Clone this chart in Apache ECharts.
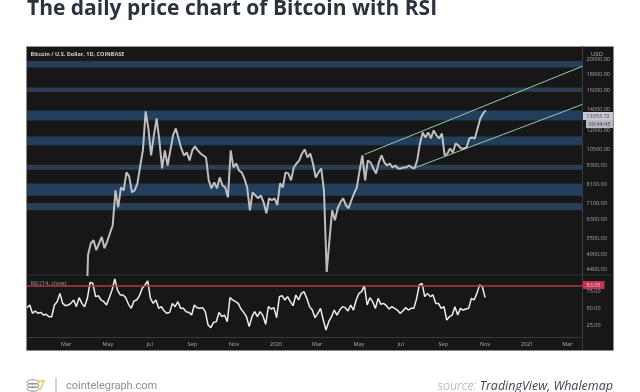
<!DOCTYPE html>
<html>
<head>
<meta charset="utf-8">
<style>html,body{margin:0;padding:0;background:#fff}#c{width:640px;height:392px}</style>
<script src="https://cdn.jsdelivr.net/npm/echarts@6/dist/echarts.min.js"></script>
</head>
<body>
<div id="c"></div>
<script>
const priceFirstDate = '2019-04-01';
const priceFirstValue = 4100;
const priceStartDate = '2019-04-02';
const rsiStartDate = '2019-01-03';
const sampleStepDays = 4;
const priceValues = [
4875,5300,5430,5055,5300,5555,5125,5385,5710,6050,7785,6890,7955,7785,8865,8610,7675,7785,8187,9255,
10390,13778,12186,10020,11581,13100,11170,9120,10390,9320,10390,11581,12186,11332,10540,10020,10240,9665,10390,10695,
10390,10165,10020,9875,8365,7900,8245,7900,8547,8070,7955,7400,10390,9187,9456,8990,8865,8485,7955,6740,
7675,7510,7350,7510,7140,6595,7350,7245,7350,6990,8187,7955,8865,8800,8365,9187,9456,9665,10165,10465,
9875,10165,9456,8547,8865,9120,7785,4312,5430,6740,6270,6840,7140,7350,6990,6840,7245,7620,7955,8990,
10020,8365,9665,9525,9120,8800,9525,10020,9525,9320,9456,9187,9320,9120,9120,9187,9187,9320,9187,9120,
9665,10930,11836,11414,11836,11332,12010,11581,11332,11750,10020,10165,10540,10240,10930,10775,10540,10540,10620,11332,
11414,11332,12186,13100,13582,13878];
const rsiValues = [
50.5,54.4,42.2,45.6,42.2,43.6,39.7,40.7,37.2,37.2,54.4,59.3,71.5,56.8,53.4,54.4,56.8,61.8,52,65.2,
56.8,52,64.2,87.7,86.3,66.7,68.1,61.8,59.3,54.4,65.2,76.4,92.6,76.4,69.1,69.1,65.2,55.4,49.5,60.3,
61.8,68.1,78.9,83.8,89.7,64.2,56.8,61.8,49.5,52,45.6,42.2,43.6,56.8,52,59.3,49.5,
49.5,44.6,43.6,39.7,54.4,50.5,49.5,50.5,44.6,25,21.1,28.9,29.9,43.6,37.2,39.7,29.9,65.2,61.8,59.3,
56.8,48.5,43.6,37.2,22.6,37.2,44.6,37.2,44.6,38.7,26,52,48.5,50.5,35.8,66.7,68.1,61.8,66.7,59.3,
53.4,69.1,61.8,71.5,74,64.2,52,47,35.8,42.2,49.5,32.4,17.7,
29.9,37.2,47,39.7,47,52,50.5,45.6,54.4,47,61.8,71.5,74,82.8,54.4,65.2,59.3,49.5,64.2,55.4,
56.8,53.4,48.5,52,49.5,47,42.2,45.6,50.5,47,49.5,49.5,63.2,83.8,86.3,66.7,71.5,66.7,69.1,56.8,
56.8,49.5,52,32.4,37.2,39.7,52,39.7,49.5,47,48.5,49.5,64.2,61.8,71.5,83.8,81.3,65.2];
const bandLows  = [18920,15850,12907,10790,9040,7480,6740];
const bandHighs = [19845,16386,13880,11500,9370,8180,7100];
const bandColors = ['#253d57','#2c3c4e','#223f5c','#223e5a','#2b3e52','#223f5c','#2a3f55'];
const channelUpperDates = ['2020-05-09','2021-03-23'];
const channelUpperPrices = [10090,19112];
const channelLowerDates = ['2020-07-23','2021-03-23'];
const channelLowerPrices = [9187,14497];
const priceTicks = [20000,18000,16000,14000,12000,10500,9300,8100,7100,6300,5500,4900,4400];
const rsiTicks = [25,50,75];
const rsiLevel = 83.05;
const xTickDates = ['2019-03-01','2019-05-01','2019-07-01','2019-09-01','2019-11-01','2020-01-01','2020-03-01','2020-05-01','2020-07-01','2020-09-01','2020-11-01','2021-01-01','2021-03-01'];
const xTickLabels = ['Mar','May','Jul','Sep','Nov','2020','Mar','May','Jul','Sep','Nov','2021','Mar'];
const xMin = '2019-01-03', xMax = '2021-03-23';
const priceMin = 4220, priceMax = 22036, rsiMin = 7.4, rsiMax = 98.5;

const DAY = 86400000;
const ts = s => Date.parse(s + 'T00:00:00Z');
const xTickTs = xTickDates.map(ts);
const priceData = [[ts(priceFirstDate), priceFirstValue]].concat(
  priceValues.map((v, i) => [ts(priceStartDate) + i * sampleStepDays * DAY, v]));
const rsiData = rsiValues.map((v, i) => [ts(rsiStartDate) + i * sampleStepDays * DAY, v]);
const FONT = '"Open Sans", sans-serif';
const axisText = '#a9a9a9';
const axisFontSize = 5.5;

const chart = echarts.init(document.getElementById('c'), null, {renderer: 'canvas', width: 640, height: 392});
chart.setOption({
  animation: false,
  backgroundColor: '#ffffff',
  grid: [
    {left: 27, width: 555.5, top: 46.5, height: 228.5, show: false, containLabel: false},
    {left: 27, width: 555.5, top: 275, height: 62, show: false, containLabel: false}
  ],
  xAxis: [
    {type: 'value', gridIndex: 0, min: ts(xMin), max: ts(xMax), show: false},
    {type: 'value', gridIndex: 1, min: ts(xMin), max: ts(xMax),
      axisLine: {show: true, lineStyle: {color: '#3a3a3a', width: 1}},
      axisTick: {show: false}, splitLine: {show: false},
      axisLabel: {customValues: xTickTs, color: axisText, fontSize: axisFontSize, fontFamily: FONT, margin: 4,
        hideOverlap: false, showMinLabel: true, showMaxLabel: true,
        formatter: v => { const i = xTickTs.indexOf(+v); return i >= 0 ? xTickLabels[i] : ''; }}}
  ],
  yAxis: [
    {type: 'log', gridIndex: 0, position: 'right', min: priceMin, max: priceMax,
      axisLine: {show: true, lineStyle: {color: '#3c3c3c', width: 1}},
      axisTick: {show: false}, splitLine: {show: false},
      axisLabel: {customValues: priceTicks, color: axisText, fontSize: axisFontSize, fontFamily: FONT, margin: 4,
        hideOverlap: false, showMinLabel: true, showMaxLabel: true,
        formatter: v => Number(v).toFixed(2)}},
    {type: 'value', gridIndex: 1, position: 'right', min: rsiMin, max: rsiMax,
      axisLine: {show: true, lineStyle: {color: '#3c3c3c', width: 1}},
      axisTick: {show: false}, splitLine: {show: false},
      axisLabel: {customValues: rsiTicks, color: axisText, fontSize: axisFontSize, fontFamily: FONT, margin: 4,
        formatter: v => Number(v).toFixed(2)}}
  ],
  series: [
    {type: 'line', xAxisIndex: 0, yAxisIndex: 0, data: [], z: 2, silent: true,
      markArea: {silent: true,
        data: bandLows.map((lo, i) => [
          {xAxis: ts(xMin), yAxis: lo, itemStyle: {color: bandColors[i]}},
          {xAxis: ts(xMax), yAxis: bandHighs[i]}])}},
    {type: 'line', xAxisIndex: 0, yAxisIndex: 0, data: priceData, showSymbol: false, z: 4, clip: true,
      lineStyle: {color: '#d0d0d0', width: 2, opacity: 0.9, join: 'bevel'}},
    {type: 'line', xAxisIndex: 0, yAxisIndex: 0, z: 3, showSymbol: false,
      data: channelUpperDates.map((d, i) => [ts(d), channelUpperPrices[i]]),
      lineStyle: {color: '#8fcbb0', width: 1}},
    {type: 'line', xAxisIndex: 0, yAxisIndex: 0, z: 3, showSymbol: false,
      data: channelLowerDates.map((d, i) => [ts(d), channelLowerPrices[i]]),
      lineStyle: {color: '#8fcbb0', width: 1}},
    {type: 'line', xAxisIndex: 1, yAxisIndex: 1, data: rsiData, showSymbol: false, z: 4,
      lineStyle: {color: '#eeeeee', width: 1.5},
      markLine: {silent: true, symbol: 'none', label: {show: false},
        lineStyle: {color: '#ad3c4c', width: 1.5, type: 'solid'}, data: [{yAxis: rsiLevel}]}}
  ],
  graphic: [
    {type: 'rect', z: -10, silent: true, shape: {x: 26.5, y: 46, width: 587, height: 304.5}, style: {fill: '#171717'}},
    {type: 'line', z: -9, silent: true, shape: {x1: 26.5, y1: 46.5, x2: 613.5, y2: 46.5}, style: {stroke: '#9a9a9a', lineWidth: 1}},
    {type: 'line', z: -9, silent: true, shape: {x1: 26.5, y1: 46, x2: 26.5, y2: 350.5}, style: {stroke: '#8a8a8a', lineWidth: 1}},
    {type: 'line', z: -9, silent: true, shape: {x1: 27, y1: 275, x2: 613, y2: 275}, style: {stroke: '#3a3030', lineWidth: 1}},
    {type: 'line', z: -9, silent: true, shape: {x1: 582.5, y1: 337, x2: 582.5, y2: 350}, style: {stroke: '#3c3c3c', lineWidth: 1}},
    {type: 'text', z: 10, style: {x: 27, y: 20, text: 'The daily price chart of Bitcoin with RSI', fill: '#2a333d',
      font: 'bold 21px "Open Sans", sans-serif', textVerticalAlign: 'bottom'}},
    {type: 'text', z: 10, style: {x: 30.5, y: 54.5, text: 'Bitcoin / U.S. Dollar, 1D, COINBASE', fill: '#d0d0d0',
      font: '700 5.5px "Open Sans", sans-serif', textVerticalAlign: 'middle'}},
    {type: 'text', z: 10, style: {x: 30.5, y: 283, text: 'RSI (14, close)', fill: '#9c9c9c',
      font: '5.7px "Open Sans", sans-serif', textVerticalAlign: 'middle'}},
    {type: 'text', z: 10, style: {x: 597, y: 54, text: 'USD', fill: '#b5b5b5',
      font: '6px "Open Sans", sans-serif', textAlign: 'center', textVerticalAlign: 'middle'}},
    {type: 'rect', z: 10, shape: {x: 583, y: 112, width: 30, height: 8}, style: {fill: '#c9c9d1'}},
    {type: 'rect', z: 10, shape: {x: 586, y: 120, width: 27, height: 8}, style: {fill: '#b9b9c0'}},
    {type: 'text', z: 11, style: {x: 598, y: 116, text: '13353.72', fill: '#3c4048',
      font: '5.5px "Open Sans", sans-serif', textAlign: 'center', textVerticalAlign: 'middle'}},
    {type: 'text', z: 11, style: {x: 599.5, y: 124, text: '09:44:45', fill: '#3c4048',
      font: '5.5px "Open Sans", sans-serif', textAlign: 'center', textVerticalAlign: 'middle'}},
    {type: 'rect', z: 10, shape: {x: 583, y: 281, width: 21.5, height: 8}, style: {fill: '#c2354f'}},
    {type: 'text', z: 11, style: {x: 593.5, y: 285, text: '83.05', fill: '#eccdd2',
      font: '5.5px "Open Sans", sans-serif', textAlign: 'center', textVerticalAlign: 'middle'}},
    {type: 'ellipse', z: 10, shape: {cx: 33, cy: 382, rx: 6, ry: 2.2}, style: {fill: 'none', stroke: '#8d8d8d', lineWidth: 1}},
    {type: 'ellipse', z: 10, shape: {cx: 33, cy: 385.5, rx: 6, ry: 2.2}, style: {fill: 'none', stroke: '#8d8d8d', lineWidth: 1}},
    {type: 'ellipse', z: 10, shape: {cx: 33, cy: 389, rx: 6, ry: 2.2}, style: {fill: 'none', stroke: '#8d8d8d', lineWidth: 1}},
    {type: 'polyline', z: 10, shape: {points: [[37, 381], [44, 381], [40, 390]]}, style: {fill: 'none', stroke: '#f2c75c', lineWidth: 1.6}},
    {type: 'line', z: 10, shape: {x1: 56, y1: 378, x2: 56, y2: 392}, style: {stroke: '#a8a8a8', lineWidth: 1}},
    {type: 'text', z: 10, style: {x: 66, y: 386, text: 'cointelegraph.com', fill: '#8a8f94',
      font: '11px Roboto, sans-serif', textVerticalAlign: 'middle'}},
    {type: 'text', z: 10, style: {x: 613, y: 386, textAlign: 'right', textVerticalAlign: 'middle',
      text: '{a|source: }{b|TradingView, Whalemap}',
      rich: {a: {fill: '#9aa0a6', font: 'italic 300 12.5px "Open Sans", sans-serif'},
             b: {fill: '#3d4650', font: 'italic 12.5px "Open Sans", sans-serif'}}}}
  ]
});
</script>
</body>
</html>
